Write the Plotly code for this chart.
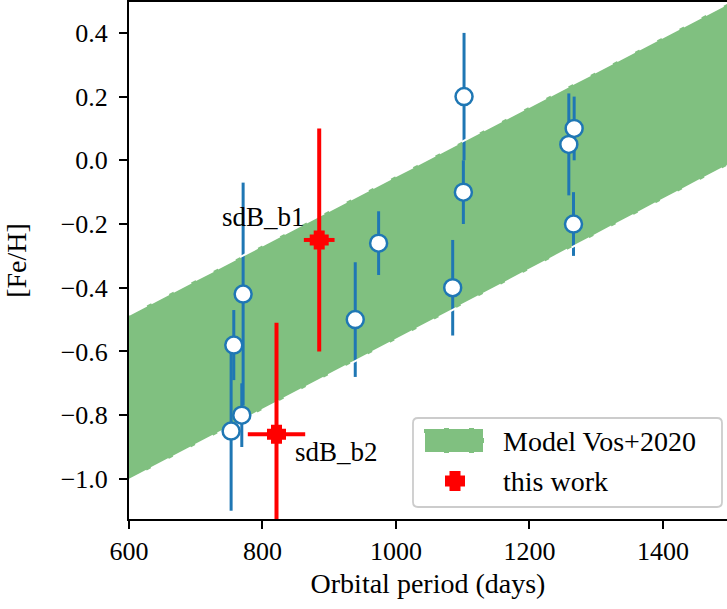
import plotly.graph_objects as go

# Literature sample (blue)
period = [753, 757, 771, 769, 939, 974, 1085, 1102, 1101, 1259, 1267, 1266]
feh = [-0.85, -0.58, -0.42, -0.80, -0.50, -0.26, -0.40, 0.20, -0.10, 0.05, 0.10, -0.20]
feh_err = [0.25, 0.11, 0.35, 0.10, 0.18, 0.10, 0.15, 0.20, 0.10, 0.16, 0.10, 0.10]

# This work (red)
tw_names = ["sdB_b1", "sdB_b2"]
tw_period = [885, 821]
tw_period_err = [23, 43]
tw_feh = [-0.25, -0.86]
tw_feh_err = [0.35, 0.35]

# Model band (Vos+2020)
band_p = [600, 1500]
band_upper = [-0.485, 0.495]
band_lower = [-1.003, -0.013]

legend_labels = ["Model Vos+2020", "this work"]

FONT = "Liberation Serif"
FS_TICK = 26
FS_TEXT = 28
BLUE = "#1f77b4"
GREEN = "rgb(128,192,128)"
DASH = "20px,5px"

# plot-area geometry in pixels (for the hand-built legend)
W, H = 727, 609
ML, MT, MB = 129, 2, 90
PW, PH = W - ML, H - MT - MB


def px(xp):
    return (xp - ML) / PW


def py(yp):
    return (H - MB - yp) / PH


fig = go.Figure()

fig.add_trace(go.Scatter(
    x=band_p + band_p[::-1], y=band_upper + band_lower[::-1],
    fill="toself", fillcolor=GREEN, mode="lines",
    line=dict(color="rgba(0,0,0,0)", width=0),
    name=legend_labels[0], showlegend=False, hoverinfo="skip"))

# blue error bars (below the dashed edges)
fig.add_trace(go.Scatter(
    x=period, y=feh, mode="markers",
    marker=dict(size=1, color="rgba(0,0,0,0)"),
    error_y=dict(type="data", array=feh_err, color=BLUE, thickness=3, width=0),
    showlegend=False))

# white dashed band edges
for yy in (band_upper, band_lower):
    fig.add_trace(go.Scatter(
        x=band_p, y=yy, mode="lines",
        line=dict(color="white", width=2, dash=DASH),
        showlegend=False, hoverinfo="skip"))

# blue markers
fig.add_trace(go.Scatter(
    x=period, y=feh, mode="markers",
    marker=dict(size=17, color="white", line=dict(color=BLUE, width=2.5)),
    showlegend=False))

# this work
fig.add_trace(go.Scatter(
    x=tw_period, y=tw_feh, mode="markers",
    marker=dict(symbol="cross", size=10, color="red", line=dict(width=7, color="red")),
    error_y=dict(type="data", array=tw_feh_err, color="red", thickness=4, width=0),
    error_x=dict(type="data", array=tw_period_err, color="red", thickness=4, width=0),
    name=legend_labels[1], showlegend=False))

fig.add_annotation(x=867, y=-0.177, text=tw_names[0], showarrow=False,
                   xanchor="right", yanchor="middle",
                   font=dict(family=FONT, size=27, color="black"))
fig.add_annotation(x=845, y=-0.915, text=tw_names[1], showarrow=False,
                   xanchor="left", yanchor="middle",
                   font=dict(family=FONT, size=27, color="black"))

# ---- hand-built legend (rounded frame, patch, marker, labels) ----
x0, x1, y0, y1, r = 413, 722, 418, 507, 5
rx, ry = r / PW, r / PH
X0, X1, Y0, Y1 = px(x0), px(x1), py(y1), py(y0)
path = (f"M{X0+rx},{Y0} L{X1-rx},{Y0} Q{X1},{Y0} {X1},{Y0+ry} "
        f"L{X1},{Y1-ry} Q{X1},{Y1} {X1-rx},{Y1} L{X0+rx},{Y1} "
        f"Q{X0},{Y1} {X0},{Y1-ry} L{X0},{Y0+ry} Q{X0},{Y0} {X0+rx},{Y0} Z")
fig.add_shape(type="path", path=path, xref="paper", yref="paper",
              fillcolor="rgba(255,255,255,0.85)",
              line=dict(color="#cccccc", width=1.8), layer="above")
fig.add_shape(type="rect", xref="paper", yref="paper",
              x0=px(424), x1=px(484), y0=py(453), y1=py(428),
              fillcolor=GREEN, line=dict(color="white", width=2, dash=DASH),
              layer="above")
cx, cy, L, A = 455, 481, 20, 11
fig.add_shape(type="rect", xref="paper", yref="paper",
              x0=px(cx - L / 2), x1=px(cx + L / 2), y0=py(cy + A / 2), y1=py(cy - A / 2),
              fillcolor="red", line=dict(width=0), layer="above")
fig.add_shape(type="rect", xref="paper", yref="paper",
              x0=px(cx - A / 2), x1=px(cx + A / 2), y0=py(cy + L / 2), y1=py(cy - L / 2),
              fillcolor="red", line=dict(width=0), layer="above")
for lbl, yc in zip(legend_labels, (441, 481)):
    fig.add_annotation(x=px(501), y=py(yc), xref="paper", yref="paper",
                       text=lbl, showarrow=False, xanchor="left", yanchor="middle",
                       font=dict(family=FONT, size=FS_TEXT, color="black"))

axis_common = dict(
    showline=True, linecolor="black", linewidth=2,
    ticks="outside", ticklen=8, tickwidth=2, tickcolor="black",
    showgrid=False, zeroline=False,
    tickfont=dict(family=FONT, size=FS_TICK, color="black"),
)

fig.update_xaxes(range=[600, 1496], tickvals=[600, 800, 1000, 1200, 1400],
                 mirror=True,
                 title=dict(text="Orbital period (days)", standoff=8,
                            font=dict(family=FONT, size=FS_TEXT, color="black")),
                 **axis_common)
fig.update_yaxes(range=[-1.126, 0.497],
                 tickvals=[-1.0, -0.8, -0.6, -0.4, -0.2, 0.0, 0.2, 0.4],
                 tickformat=".1f", ticklabelstandoff=6,
                 title=dict(text="[Fe/H]", standoff=26,
                            font=dict(family=FONT, size=FS_TEXT, color="black")),
                 **axis_common)

fig.update_layout(
    width=W, height=H,
    margin=dict(l=ML, r=0, t=MT, b=MB),
    plot_bgcolor="white", paper_bgcolor="white",
    showlegend=False,
)

fig.write_html("out.html")
